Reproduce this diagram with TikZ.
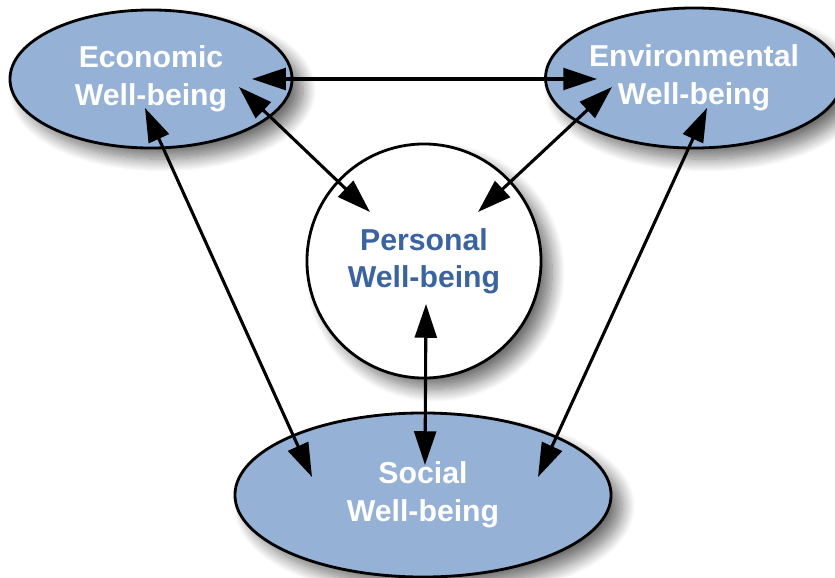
\documentclass[tikz,border=0pt]{standalone}
\usepackage{fontspec}
\setmainfont{Liberation Sans}
\usepackage{xcolor}
\usetikzlibrary{shapes.geometric, arrows.meta, shadows.blur}
\definecolor{wellblue}{RGB}{149,177,214}
\definecolor{personalblue}{RGB}{58,99,160}
\tikzstyle{wellshadow} = [blur shadow={shadow xshift=8pt, shadow yshift=-8pt, shadow blur radius=9pt, shadow blur steps=14, shadow opacity=55}]
\tikzstyle{outer} = [ellipse, draw=black, line width=2pt, fill=wellblue, text=white, font=\bfseries\fontsize{21.5}{27}\selectfont, align=center, inner sep=0pt, wellshadow]
\tikzstyle{inner} = [circle, draw=black, line width=2pt, fill=white, text=personalblue, font=\bfseries\fontsize{21.5}{26}\selectfont, align=center, inner sep=0pt, wellshadow]
\tikzstyle{arrow} = [line width=2.2pt, {Triangle[length=24pt, width=15.5pt]}-{Triangle[length=24pt, width=15.5pt]}]

\begin{document}
\begin{tikzpicture}[x=0.025cm, y=-0.025cm]
		\useasboundingbox (0,0) rectangle (835,578);
		
		% Nodes
		\node (econ) [outer, minimum width=7.05cm, minimum height=3.45cm] at (151,79) {Economic\\Well-being};
		\node (env) [outer, minimum width=6.95cm, minimum height=3.5cm] at (694,78) {Environmental\\Well-being};
		\node (personal) [inner, minimum size=5.85cm] at (424,261) {Personal\\Well-being};
		\node (social) [outer, minimum width=9.4cm, minimum height=4.1cm] at (423,495) {Social\\Well-being};
		
		% Arrows between the outer ellipses
		\draw [arrow] ([shift={(101,0)}]econ.center) -- ([shift={(-97,1)}]env.center);
		\draw [arrow] ([shift={(-6,29)}]econ.center) -- ([shift={(-111,-18)}]social.center);
		\draw [arrow] ([shift={(13,30)}]env.center) -- ([shift={(115,-18)}]social.center);
		
		% Arrows to the personal circle
		\draw [arrow] ([shift={(88,8)}]econ.center) -- ([shift={(-54,-49)}]personal.center);
		\draw [arrow] ([shift={(-82,9)}]env.center) -- ([shift={(54,-49)}]personal.center);
		\draw [arrow] ([shift={(2,43)}]personal.center) -- ([shift={(2,-30)}]social.center);
		
	\end{tikzpicture}
\end{document}
